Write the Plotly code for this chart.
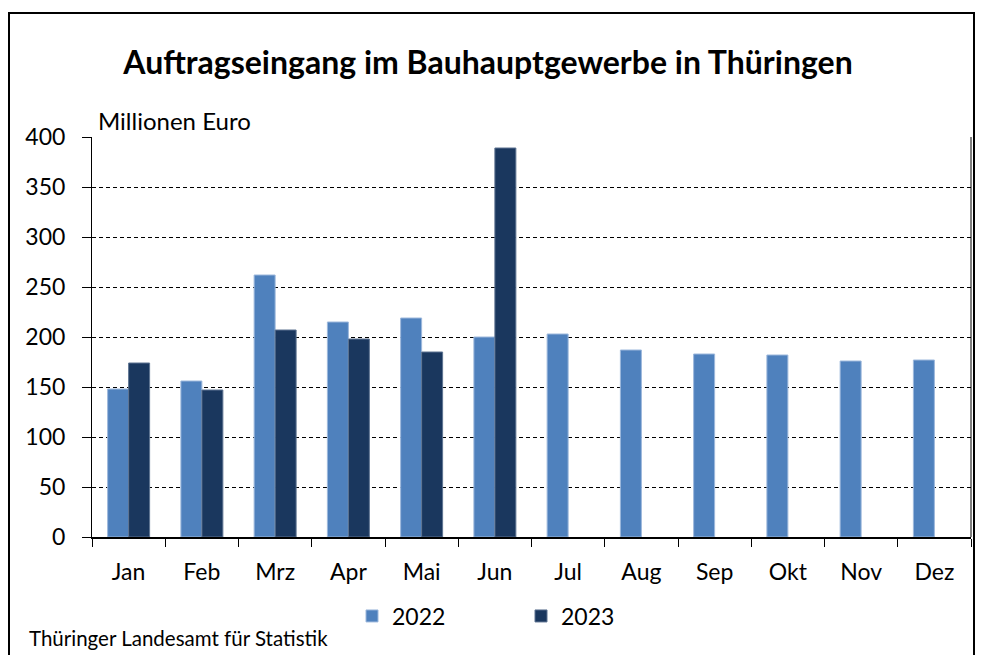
import plotly.graph_objects as go

months = ["Jan", "Feb", "Mrz", "Apr", "Mai", "Jun", "Jul", "Aug", "Sep", "Okt", "Nov", "Dez"]
values_2022 = [148, 156, 262, 215, 219, 200, 203, 187, 183, 182, 176, 177]
values_2023 = [174, 147, 207, 198, 185, 389, None, None, None, None, None, None]
y_ticks = [0, 50, 100, 150, 200, 250, 300, 350, 400]

FONT = "Lato"
OFF = 8  # page body margin
W, H = 983 - OFF, 655 - OFF
L, T = 92 - OFF, 137 - OFF
R = (OFF + W) - 971
B = (OFF + H) - 537
PW, PH = W - L - R, H - T - B

def px(x):  # screen x -> paper
    return (x - OFF - L) / PW

def py(y):  # screen y -> paper
    return (H - B - (y - OFF)) / PH

fig = go.Figure()
fig.add_trace(go.Bar(x=months, y=values_2022, name="2022",
                     marker=dict(color="#4f81bd", line=dict(color="#9db8dc", width=1))))
fig.add_trace(go.Bar(x=months, y=values_2023, name="2023",
                     marker=dict(color="#1a375e", line=dict(color="#5d7391", width=1))))

fig.update_layout(
    width=W, height=H,
    margin=dict(l=L, r=R, t=T, b=B, autoexpand=False),
    paper_bgcolor="white", plot_bgcolor="white",
    barmode="group", bargap=0.427, bargroupgap=0,
    font=dict(family=FONT, size=23, color="black"),
    title=dict(text="<b>Auftragseingang im Bauhauptgewerbe in Thüringen</b>",
               x=px(488), xref="paper", xanchor="center",
               y=1 - (63 - OFF) / H, yanchor="middle",
               font=dict(family=FONT, size=32, color="black")),
    showlegend=True,
    legend=dict(orientation="h", x=px(352), xanchor="left", y=py(616), yanchor="middle",
                font=dict(family=FONT, size=23), entrywidth=124, traceorder="normal",
                itemclick=False),
    xaxis=dict(showline=True, linecolor="black", linewidth=2, ticks="outside",
               tickson="boundaries", ticklen=8, tickcolor="black", tickwidth=1,
               showgrid=False, ticklabelstandoff=13),
    yaxis=dict(range=[0, 400], tickvals=y_ticks, showline=True, linecolor="black", linewidth=1,
               ticks="outside", ticklen=9, tickcolor="black", showgrid=True,
               gridcolor="black", griddash="4px,3px", gridwidth=1, zeroline=False,
               ticklabelstandoff=12),
    shapes=[
        dict(type="line", xref="paper", yref="paper", x0=1, x1=1, y0=0, y1=1,
             line=dict(color="black", width=1)),
        dict(type="rect", xref="paper", yref="paper", x0=px(9), x1=px(974), y0=py(13), y1=py(680),
             line=dict(color="black", width=2), fillcolor="rgba(0,0,0,0)", layer="below"),
    ],
    annotations=[
        dict(text="Millionen Euro", xref="paper", yref="paper", x=px(96), y=py(121),
             xanchor="left", yanchor="middle", showarrow=False,
             font=dict(family=FONT, size=24, color="black")),
        dict(text="Thüringer Landesamt für Statistik", xref="paper", yref="paper",
             x=px(27), y=py(638), xanchor="left", yanchor="middle", showarrow=False,
             font=dict(family=FONT, size=20.5, color="black")),
    ],
)

fig.write_html("out.html")
